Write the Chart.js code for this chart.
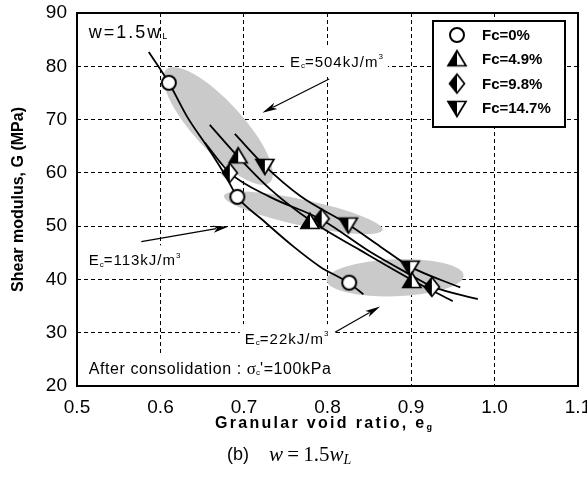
<!DOCTYPE html>
<html><head><meta charset="utf-8">
<script src="https://cdn.jsdelivr.net/npm/chart.js@4.4.1/dist/chart.umd.min.js"></script>
<style>html,body{margin:0;padding:0;background:#fff;overflow:hidden}</style>
</head><body><canvas id="chart" width="587" height="477"></canvas>
<script>
// ---------------- data ----------------
const xTicks = [0.5, 0.6, 0.7, 0.8, 0.9, 1.0, 1.1];
const yTicks = [20, 30, 40, 50, 60, 70, 80, 90];
const seriesNames = ['Fc=0%', 'Fc=4.9%', 'Fc=9.8%', 'Fc=14.7%'];

const egFc0 = [0.610, 0.692, 0.826];
const gFc0 = [76.9, 55.5, 39.4];
const egFc49 = [0.693, 0.779, 0.901];
const gFc49 = [63.1, 50.8, 39.7];
const egFc98 = [0.683, 0.793, 0.925];
const gFc98 = [60.0, 51.4, 38.6];
const egFc147 = [0.725, 0.825, 0.899];
const gFc147 = [61.3, 50.3, 42.2];

// fitted curves
const fitEgFc0 = [0.586, 0.610, 0.632, 0.656, 0.677, 0.692, 0.722, 0.759, 0.791, 0.825, 0.843];
const fitGFc0 = [82.7, 76.9, 70.5, 64.9, 59.7, 55.5, 51.2, 46.2, 42.4, 39.4, 37.2];
const fitEgFc49 = [0.659, 0.693, 0.731, 0.781, 0.839, 0.900, 0.950];
const fitGFc49 = [69.0, 63.0, 57.0, 50.9, 45.5, 40.0, 35.9];
const fitEgFc98 = [0.653, 0.683, 0.731, 0.793, 0.851, 0.899, 0.925, 0.980];
const fitGFc98 = [65.7, 60.0, 55.5, 51.2, 45.2, 40.9, 38.7, 36.3];
const fitEgFc147 = [0.689, 0.725, 0.767, 0.825, 0.863, 0.899, 0.959];
const fitGFc147 = [67.3, 61.3, 55.7, 50.3, 46.2, 42.4, 38.5];

// compaction energy groups (shaded zones, in data units: centre, end of long axis, width ratio)
const energyLabels = ['504', '113', '22'];
const zoneCentre = [[0.669, 68.8], [0.771, 52.5], [0.881, 40.3]];
const zoneAxisEnd = [[0.731, 58.2], [0.866, 49.3], [0.963, 40.75]];
const zoneRatio = [0.32, 0.16, 0.27];
const arrowFrom = [[0.802, 77.6], [0.577, 47.1], [0.809, 30.1]];
const arrowTo = [[0.722, 71.3], [0.681, 49.9], [0.863, 34.9]];
const energyAnchor = [[0.755, 80.6], [0.514, 43.4], [0.701, 28.6]];
const wAnchor = [0.514, 86.3];
const noteAnchor = [0.514, 23.1];

// ---------------- markers ----------------
function marker(kind) {
  const c = document.createElement('canvas');
  c.width = 24; c.height = 24;
  const g = c.getContext('2d');
  const cx = 12, cy = 12;
  g.strokeStyle = '#000';
  g.lineJoin = 'miter';
  if (kind === 'circle') {
    g.beginPath(); g.arc(cx, cy, 7, 0, Math.PI * 2);
    g.fillStyle = '#fff'; g.fill(); g.lineWidth = 2; g.stroke();
    return c;
  }
  let full, half;
  if (kind === 'up') {
    full = [[cx, cy - 8.5], [cx + 9, cy + 6.5], [cx - 9, cy + 6.5]];
    half = [[cx, cy - 8.5], [cx, cy + 6.5], [cx - 9, cy + 6.5]];
  } else if (kind === 'diamond') {
    full = [[cx, cy - 9.5], [cx + 7.5, cy], [cx, cy + 9.5], [cx - 7.5, cy]];
    half = [[cx, cy - 9.5], [cx, cy + 9.5], [cx - 7.5, cy]];
  } else {
    full = [[cx - 9, cy - 6.5], [cx + 9, cy - 6.5], [cx, cy + 8.5]];
    half = [[cx - 9, cy - 6.5], [cx, cy - 6.5], [cx, cy + 8.5]];
  }
  const path = (p) => { g.beginPath(); g.moveTo(p[0][0], p[0][1]); for (let i = 1; i < p.length; i++) g.lineTo(p[i][0], p[i][1]); g.closePath(); };
  path(full); g.fillStyle = '#fff'; g.fill();
  path(half); g.fillStyle = '#000'; g.fill();
  path(full); g.lineWidth = 1.7; g.stroke();
  return c;
}
const markers = [marker('circle'), marker('up'), marker('diamond'), marker('down')];

const zip = (xs, ys) => xs.map((x, i) => ({ x: x, y: ys[i] }));
const pointSets = [[egFc0, gFc0], [egFc49, gFc49], [egFc98, gFc98], [egFc147, gFc147]];
const fitSets = [[fitEgFc0, fitGFc0], [fitEgFc49, fitGFc49], [fitEgFc98, fitGFc98], [fitEgFc147, fitGFc147]];

const datasets = [];
pointSets.forEach((s, i) => datasets.push({
  label: seriesNames[i], data: zip(s[0], s[1]), showLine: false,
  pointStyle: markers[i], pointRadius: 8, order: 0
}));
fitSets.forEach((s, i) => datasets.push({
  label: seriesNames[i] + ' fit', data: zip(s[0], s[1]), showLine: true,
  borderColor: '#000', borderWidth: 1.8, pointRadius: 0, cubicInterpolationMode: 'monotone', order: 1
}));

// ---------------- drawing helpers ----------------
const SANS = '"Liberation Sans", Arial, sans-serif';
const SERIF = '"Liberation Serif", "Times New Roman", serif';
function rich(ctx, x, y, parts) {
  let cx = x;
  for (const p of parts) {
    ctx.font = p.f;
    ctx.letterSpacing = p.ls || '0px';
    ctx.fillText(p.t, cx, y + (p.dy || 0));
    cx += ctx.measureText(p.t).width;
  }
  ctx.letterSpacing = '0px';
  return cx - x;
}
function energyParts(v) {
  return [
    { t: 'E', f: '15px ' + SANS, ls: '1px' },
    { t: 'c', f: '8px ' + SANS, dy: 3 },
    { t: '=' + v + 'kJ/m', f: '15px ' + SANS, ls: '1px' },
    { t: '3', f: '8px ' + SANS, dy: -6 }
  ];
}
const noteParts = [
  { t: 'After consolidation : ', f: '16px ' + SANS, ls: '0.6px' },
  { t: 'σ', f: '17px ' + SERIF },
  { t: 'c', f: '8px ' + SANS, dy: 3 },
  { t: "'=100kPa", f: '16px ' + SANS, ls: '0.6px' }
];
function measureParts(ctx, parts) {
  let w = 0;
  for (const p of parts) { ctx.font = p.f; ctx.letterSpacing = p.ls || '0px'; w += ctx.measureText(p.t).width; }
  ctx.letterSpacing = '0px';
  return w;
}

const overlay = {
  id: 'overlay',
  beforeDatasetsDraw(chart) {
    const ctx = chart.ctx, xs = chart.scales.x, ys = chart.scales.y, ca = chart.chartArea;
    const px = (p) => [xs.getPixelForValue(p[0]), ys.getPixelForValue(p[1])];
    ctx.save();
    ctx.beginPath(); ctx.rect(ca.left, ca.top, ca.width, ca.height); ctx.clip();
    // white backgrounds behind labels (hide grid)
    ctx.fillStyle = '#fff';
    energyAnchor.forEach((a, i) => {
      const [x, y] = px(a);
      const w = measureParts(ctx, energyParts(energyLabels[i]));
      ctx.fillRect(x - 5, y - 16, w + 10, 30);
    });
    {
      const [x, y] = px(noteAnchor);
      const w = measureParts(ctx, noteParts);
      ctx.fillRect(x - 5, y - 16, w + 10, 32);
    }
    // shaded zones
    ctx.fillStyle = 'rgb(202,202,202)';
    zoneCentre.forEach((c, i) => {
      const [cx, cy] = px(c);
      const [ex, ey] = px(zoneAxisEnd[i]);
      const a = Math.atan2(ey - cy, ex - cx);
      const rx = Math.hypot(ex - cx, ey - cy);
      ctx.beginPath();
      ctx.ellipse(cx, cy, rx, rx * zoneRatio[i], a, 0, Math.PI * 2);
      ctx.fill();
    });
    ctx.restore();
  },
  afterDatasetsDraw(chart) {
    const ctx = chart.ctx, xs = chart.scales.x, ys = chart.scales.y, ca = chart.chartArea;
    const px = (p) => [xs.getPixelForValue(p[0]), ys.getPixelForValue(p[1])];
    ctx.save();
    ctx.fillStyle = '#000';
    ctx.strokeStyle = '#000';
    ctx.textBaseline = 'middle';
    ctx.textAlign = 'left';
    // energy labels
    energyAnchor.forEach((a, i) => {
      const [x, y] = px(a);
      rich(ctx, x, y, energyParts(energyLabels[i]));
    });
    // w = 1.5 wL
    {
      const [x, y] = px(wAnchor);
      rich(ctx, x, y, [
        { t: 'w=1.5w', f: '18px ' + SANS, ls: '2px' },
        { t: 'L', f: '9px ' + SANS, dy: 4 }
      ]);
    }
    // note
    {
      const [x, y] = px(noteAnchor);
      rich(ctx, x, y, noteParts);
    }
    // arrows
    ctx.lineWidth = 1.2;
    arrowFrom.forEach((f, i) => {
      const [x1, y1] = px(f);
      const [x2, y2] = px(arrowTo[i]);
      const a = Math.atan2(y2 - y1, x2 - x1);
      const L = 15, W = 3.5;
      ctx.beginPath(); ctx.moveTo(x1, y1);
      ctx.lineTo(x2 - Math.cos(a) * L * 0.8, y2 - Math.sin(a) * L * 0.8); ctx.stroke();
      ctx.beginPath();
      ctx.moveTo(x2, y2);
      ctx.lineTo(x2 - Math.cos(a) * L - Math.sin(a) * W, y2 - Math.sin(a) * L + Math.cos(a) * W);
      ctx.lineTo(x2 - Math.cos(a) * L * 0.75, y2 - Math.sin(a) * L * 0.75);
      ctx.lineTo(x2 - Math.cos(a) * L + Math.sin(a) * W, y2 - Math.sin(a) * L - Math.cos(a) * W);
      ctx.closePath(); ctx.fill();
    });
    // legend box
    const lx = ca.right - 145, ly = ca.top + 8, lw = 132, lh = 106;
    ctx.fillStyle = '#fff';
    ctx.fillRect(lx, ly, lw, lh);
    ctx.lineWidth = 2;
    ctx.strokeRect(lx, ly, lw, lh);
    ctx.fillStyle = '#000';
    ctx.font = 'bold 15px ' + SANS;
    seriesNames.forEach((n, i) => {
      const yy = ly + 14 + i * 24.3;
      const m = markers[i];
      ctx.drawImage(m, lx + 24 - m.width / 2, yy - m.height / 2);
      ctx.fillText(n, lx + 49, yy + 1);
    });
    // frame
    ctx.lineWidth = 2;
    ctx.strokeRect(ca.left, ca.top, ca.width, ca.height);
    ctx.restore();
  },
  afterDraw(chart) {
    const ctx = chart.ctx, ca = chart.chartArea;
    ctx.save();
    ctx.fillStyle = '#000';
    ctx.textBaseline = 'middle';
    ctx.textAlign = 'left';
    // x-axis title with subscript
    const tParts = [
      { t: 'Granular void ratio, e', f: 'bold 16px ' + SANS, ls: '2.3px' },
      { t: 'g', f: 'bold 9px ' + SANS, dy: 4 }
    ];
    const tw = measureParts(ctx, tParts);
    const cx = (ca.left + ca.right) / 2;
    rich(ctx, cx - tw / 2 - 4, 424, tParts);
    // caption
    const cParts = [
      { t: '(b)', f: '18px ' + SANS },
      { t: '    ', f: '18px ' + SANS },
      { t: 'w', f: 'italic 21px ' + SERIF },
      { t: '\u2009=\u20091.5', f: '21px ' + SERIF },
      { t: 'w', f: 'italic 21px ' + SERIF },
      { t: 'L', f: 'italic 14px ' + SERIF, dy: 5 }
    ];
    rich(ctx, 227, 455, cParts);
    ctx.restore();
  }
};

new Chart(document.getElementById('chart'), {
  type: 'scatter',
  data: { datasets: datasets },
  options: {
    responsive: false,
    animation: false,
    events: [],
    layout: { padding: { left: 0, right: 9, top: 13, bottom: 0 } },
    plugins: { legend: { display: false }, tooltip: { enabled: false } },
    scales: {
      x: {
        type: 'linear', min: 0.5, max: 1.1,
        afterBuildTicks: (s) => { s.ticks = xTicks.map(v => ({ value: v })); },
        afterFit: (s) => { s.height = 91; s.paddingLeft = 0; s.paddingRight = 0; },
        ticks: { callback: (v) => Number(v).toFixed(1), color: '#000', padding: 10, maxRotation: 0,
                 font: { family: 'Liberation Sans', size: 19 } },
        grid: { color: '#000', lineWidth: 1, drawTicks: false },
        border: { display: false, dash: [4, 3] }
      },
      y: {
        type: 'linear', min: 20, max: 90,
        afterBuildTicks: (s) => { s.ticks = yTicks.map(v => ({ value: v })); },
        afterFit: (s) => { s.width = 77; s.paddingTop = 0; s.paddingBottom = 0; },
        ticks: { color: '#000', padding: 10, font: { family: 'Liberation Sans', size: 19 } },
        grid: { color: '#000', lineWidth: 1, drawTicks: false },
        border: { display: false, dash: [4, 3] },
        title: { display: true, text: 'Shear modulus, G (MPa)', color: '#000',
                 font: { family: 'Liberation Sans', size: 16, weight: 'bold' }, padding: { top: 9, bottom: 0 } }
      }
    }
  },
  plugins: [overlay]
});
</script>
</body></html>
